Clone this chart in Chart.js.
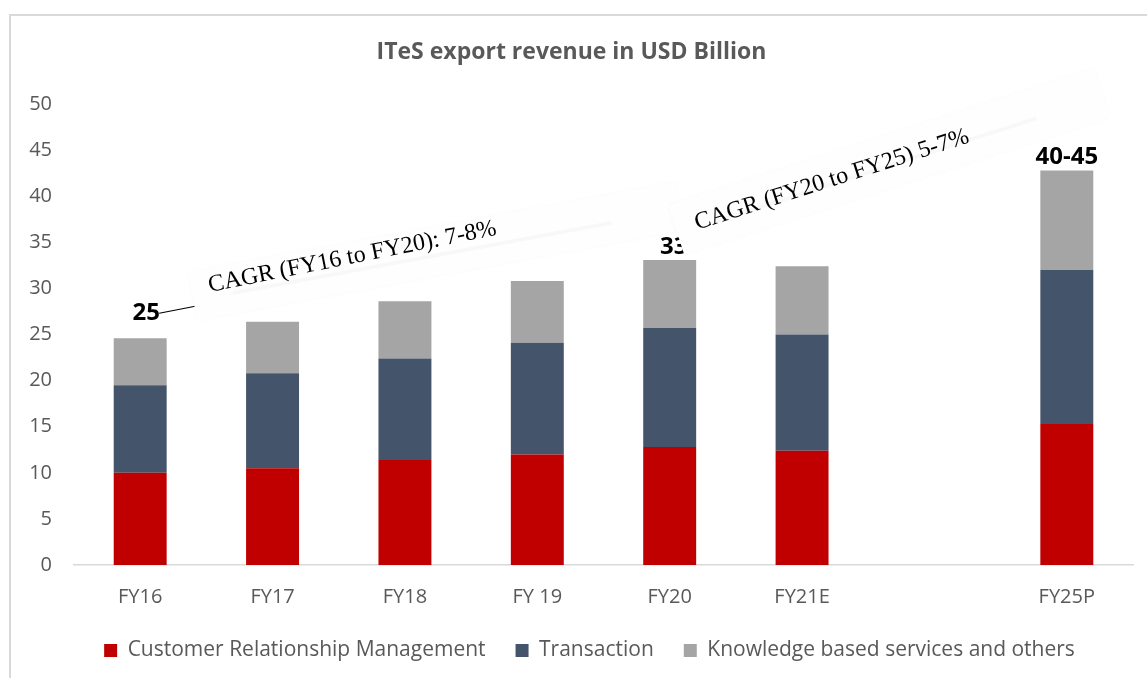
<!DOCTYPE html>
<html lang="en">
<head>
  <meta charset="UTF-8">
  <title>ITeS export revenue in USD Billion</title>
  <style>
    html, body { margin: 0; padding: 0; background: #fff; }
    .chart-box { width: 1147px; height: 678px; position: relative; }
  </style>
</head>
<body>
  <div class="chart-box">
    <canvas id="ites-chart"></canvas>
  </div>
  <script src="https://cdn.jsdelivr.net/npm/chart.js"></script>
  <script>
    // datos
    const categories = ['FY16', 'FY17', 'FY18', 'FY 19', 'FY20', 'FY21E', '', 'FY25P'];
    const crmValues = [10.0, 10.5, 11.4, 12.0, 12.8, 12.4, null, 15.3];
    const transactionValues = [9.5, 10.3, 11.0, 12.1, 12.9, 12.6, null, 16.7];
    const knowledgeValues = [5.1, 5.6, 6.2, 6.7, 7.4, 7.4, null, 10.8];
    const totalLabels = ['25', '', '', '', '33', '', '', '40-45'];
    const cagrTexts = ['CAGR (FY16 to FY20): 7-8%', 'CAGR (FY20 to FY25) 5-7%'];

    const textColor = '#595959';

    // marco gris + leyenda un poco a la derecha
    const frame = {
      id: 'frame',
      afterLayout(chart) {
        chart.legend.left += 18;
        chart.legend.right += 18;
      },
      beforeDraw(chart) {
        const ctx = chart.ctx;
        ctx.save();
        ctx.strokeStyle = '#d9d9d9';
        ctx.lineWidth = 2;
        ctx.beginPath();
        ctx.moveTo(chart.width, 15);
        ctx.lineTo(10, 15);
        ctx.lineTo(10, chart.height);
        ctx.stroke();
        ctx.restore();
      }
    };

    // etiquetas de totales y cajas CAGR
    const annotations = {
      id: 'annotations',
      afterDatasetsDraw(chart) {
        const ctx = chart.ctx;
        const x = chart.scales.x, y = chart.scales.y;
        ctx.save();
        ctx.font = 'bold 24px "Open Sans", sans-serif';
        ctx.fillStyle = '#000';
        ctx.textAlign = 'center';
        ctx.textBaseline = 'bottom';
        totalLabels.forEach((lab, i) => {
          if (!lab) return;
          const total = crmValues[i] + transactionValues[i] + knowledgeValues[i];
          let px = x.getPixelForValue(i);
          let py = y.getPixelForValue(total) - 1;
          if (i === 0) { px += 6; py -= 12; }
          if (i === 4) { px += 4; }
          ctx.fillText(lab, px, py);
        });
        // linea guia del 25
        const x0 = x.getPixelForValue(0);
        const y0 = y.getPixelForValue(crmValues[0] + transactionValues[0] + knowledgeValues[0]);
        ctx.strokeStyle = '#000';
        ctx.lineWidth = 1.2;
        ctx.beginPath();
        ctx.moveTo(x0 + 19, y0 - 25);
        ctx.lineTo(x0 + 55, y0 - 32);
        ctx.stroke();
        ctx.restore();

        const boxes = [
          { bx: 197, by: 320, w: 495, h: 48, ang: 10.5, extra: 0.8, tx: 18, ty: -25 },
          { bx: 684, by: 254, w: 447, h: 51, ang: 17.8, extra: 0, tx: 20, ty: -19 }
        ];
        boxes.forEach((b, i) => {
          ctx.save();
          ctx.translate(b.bx, b.by);
          ctx.rotate(-b.ang * Math.PI / 180);
          ctx.shadowColor = 'rgba(0,0,0,0.03)';
          ctx.shadowBlur = 4;
          ctx.fillStyle = '#fefefe';
          ctx.fillRect(0, -b.h, b.w, b.h);
          ctx.shadowBlur = 0;
          // flecha tenue
          ctx.strokeStyle = 'rgba(0,0,0,0.025)';
          ctx.lineWidth = 4;
          ctx.beginPath();
          ctx.moveTo(40, -b.h / 2 + 4);
          ctx.lineTo(b.w - 70, -b.h / 2 + 4);
          ctx.stroke();
          ctx.rotate(-b.extra * Math.PI / 180);
          ctx.fillStyle = '#000';
          ctx.font = '24px "Liberation Serif", "Times New Roman", serif';
          ctx.textAlign = 'left';
          ctx.textBaseline = 'alphabetic';
          ctx.fillText(cagrTexts[i], b.tx, b.ty);
          ctx.restore();
        });
      }
    };

    new Chart(document.getElementById('ites-chart'), {
      type: 'bar',
      data: {
        labels: categories,
        datasets: [
          { label: 'Customer Relationship Management', data: crmValues, backgroundColor: '#c00000' },
          { label: 'Transaction', data: transactionValues, backgroundColor: '#44546a' },
          { label: 'Knowledge based services and others', data: knowledgeValues, backgroundColor: '#a5a5a5' }
        ]
      },
      options: {
        responsive: true,
        maintainAspectRatio: false,
        animation: false,
        datasets: { bar: { barPercentage: 0.4, categoryPercentage: 1 } },
        layout: { padding: { left: 10, right: 14, top: 0, bottom: 7 } },
        plugins: {
          title: {
            display: true,
            text: 'ITeS export revenue in USD Billion',
            color: textColor,
            font: { family: '"Open Sans", sans-serif', size: 23, weight: 'bold' },
            padding: { top: 39, bottom: 37.5 }
          },
          legend: {
            position: 'bottom',
            labels: {
              color: textColor,
              font: { family: '"Open Sans", sans-serif', size: 21 },
              boxWidth: 13,
              boxHeight: 13,
              padding: 30
            }
          },
          tooltip: { enabled: false }
        },
        scales: {
          x: {
            stacked: true,
            afterFit(scale) { scale.height = 45; },
            grid: { display: false, drawTicks: false },
            border: { display: true, color: '#d9d9d9', width: 1.5 },
            ticks: { color: textColor, font: { family: '"Open Sans", sans-serif', size: 20, lineHeight: 1 }, padding: 22 }
          },
          y: {
            stacked: true,
            min: 0,
            max: 50,
            afterFit(scale) { scale.width = 64; },
            grid: { display: false, drawTicks: false },
            border: { display: false },
            ticks: { stepSize: 5, color: textColor, font: { family: '"Open Sans", sans-serif', size: 20 }, padding: 22 }
          }
        }
      },
      plugins: [frame, annotations]
    });
  </script>
</body>
</html>
